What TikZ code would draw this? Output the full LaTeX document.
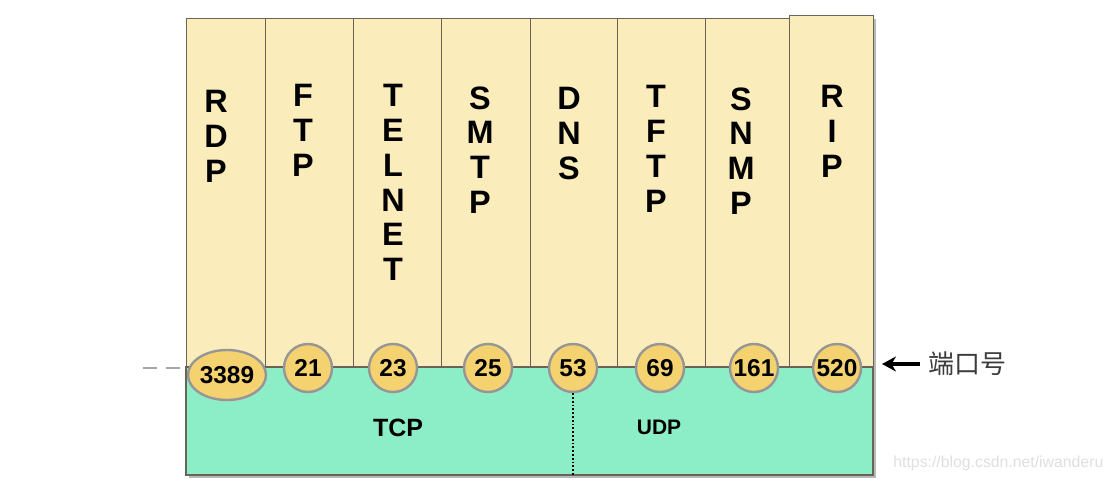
\documentclass[tikz,border=0pt]{standalone}
\usepackage{fontspec}
\setmainfont{Liberation Sans}
\newfontfamily\cjkfont{Noto Sans CJK SC}
\usetikzlibrary{shapes.geometric,arrows.meta,shadows}
\definecolor{tanfill}{RGB}{251,236,187}
\definecolor{tcpgreen}{RGB}{140,238,198}
\definecolor{portgold}{RGB}{245,210,112}
\definecolor{portedge}{RGB}{150,150,150}
\definecolor{edgegray}{RGB}{105,100,85}
\definecolor{cjkgray}{RGB}{60,60,60}
\tikzset{
  edge/.style={draw=edgegray, line width=0.5pt},
  proto/.style={font=\fontsize{16.2}{17.4}\selectfont\bfseries, align=center, anchor=north, inner sep=0pt},
  port/.style={circle, draw=portedge, line width=1.2pt, fill=portgold, minimum size=24pt, inner sep=0pt,
    font=\fontsize{12.2}{12.2}\selectfont\bfseries, drop shadow={shadow xshift=0.4pt, shadow yshift=-0.8pt, fill=gray!45}},
}
\begin{document}
\begin{tikzpicture}[x=0.5pt,y=-0.5pt]
  \useasboundingbox (0,0) rectangle (1112,486);
  % shadow of the box
  \fill[gray!55] (189,22) rectangle (876,478);
  \fill[gray!55] (792,19) rectangle (876,40);
  % application layer and transport layer
  \draw[edge, fill=tanfill] (186,19) rectangle (789,367);
  \draw[edge, fill=tanfill] (789,16) rectangle (873,367);
  \draw[edge, line width=0.7pt, fill=tcpgreen] (186,367) rectangle (873,475);
  \foreach \x in {265,353,441,530,617,705}
    \draw[edge] (\x,19) -- (\x,367);
  % protocols
  \foreach \x/\y/\name/\txt in {216/90/rdp/{R\\D\\P}, 303/84/ftp/{F\\T\\P},
      393/84/telnet/{T\\E\\L\\N\\E\\T}, 480/86/smtp/{S\\M\\T\\P}, 569/87/dns/{D\\N\\S},
      656/85/tftp/{T\\F\\T\\P}, 741/87/snmp/{S\\N\\M\\P}, 832/85/rip/{R\\I\\P}}
    \node[proto] (\name) at (\x,\y) {\txt};
  % port numbers
  \node[port, ellipse, minimum width=39pt, minimum height=25pt] (p3389) at (227,375) {3389};
  \foreach \x/\num in {308/21, 393/23, 488/25, 573/53, 660/69, 754/161, 837/520}
    \node[port] (p\num) at (\x,368) {\num};
  \node[font=\fontsize{12.5}{12.5}\selectfont\bfseries] (tcp) at (398,428) {TCP};
  \node[font=\fontsize{10.5}{10.5}\selectfont\bfseries] (udp) at (659,427) {UDP};
  \coordinate (splitend) at (573,475);
  \draw[densely dotted, line width=0.9pt] (p53.south) -- (splitend);
  \coordinate (dashstart) at (143,368);
  \draw[gray!70, line width=0.8pt, dash pattern=on 7pt off 4.5pt] (dashstart) -- (dashstart -| p3389.west);
  % label on the right
  \node[anchor=west, inner sep=4pt, font=\cjkfont\fontsize{13}{13}\selectfont, text=cjkgray] (portlbl) at (920,364) {端口号};
  \coordinate (boxedge) at (882,364);
  \draw[-{Stealth[length=7pt,width=7.5pt]}, line width=1.8pt] (portlbl.west) -- (boxedge);
  \node[anchor=base west, inner sep=0pt, font=\fontsize{7.9}{7.9}\selectfont, text=gray!25] (mark) at (893,467) {https://blog.csdn.net/iwanderu};
\end{tikzpicture}
\end{document}
